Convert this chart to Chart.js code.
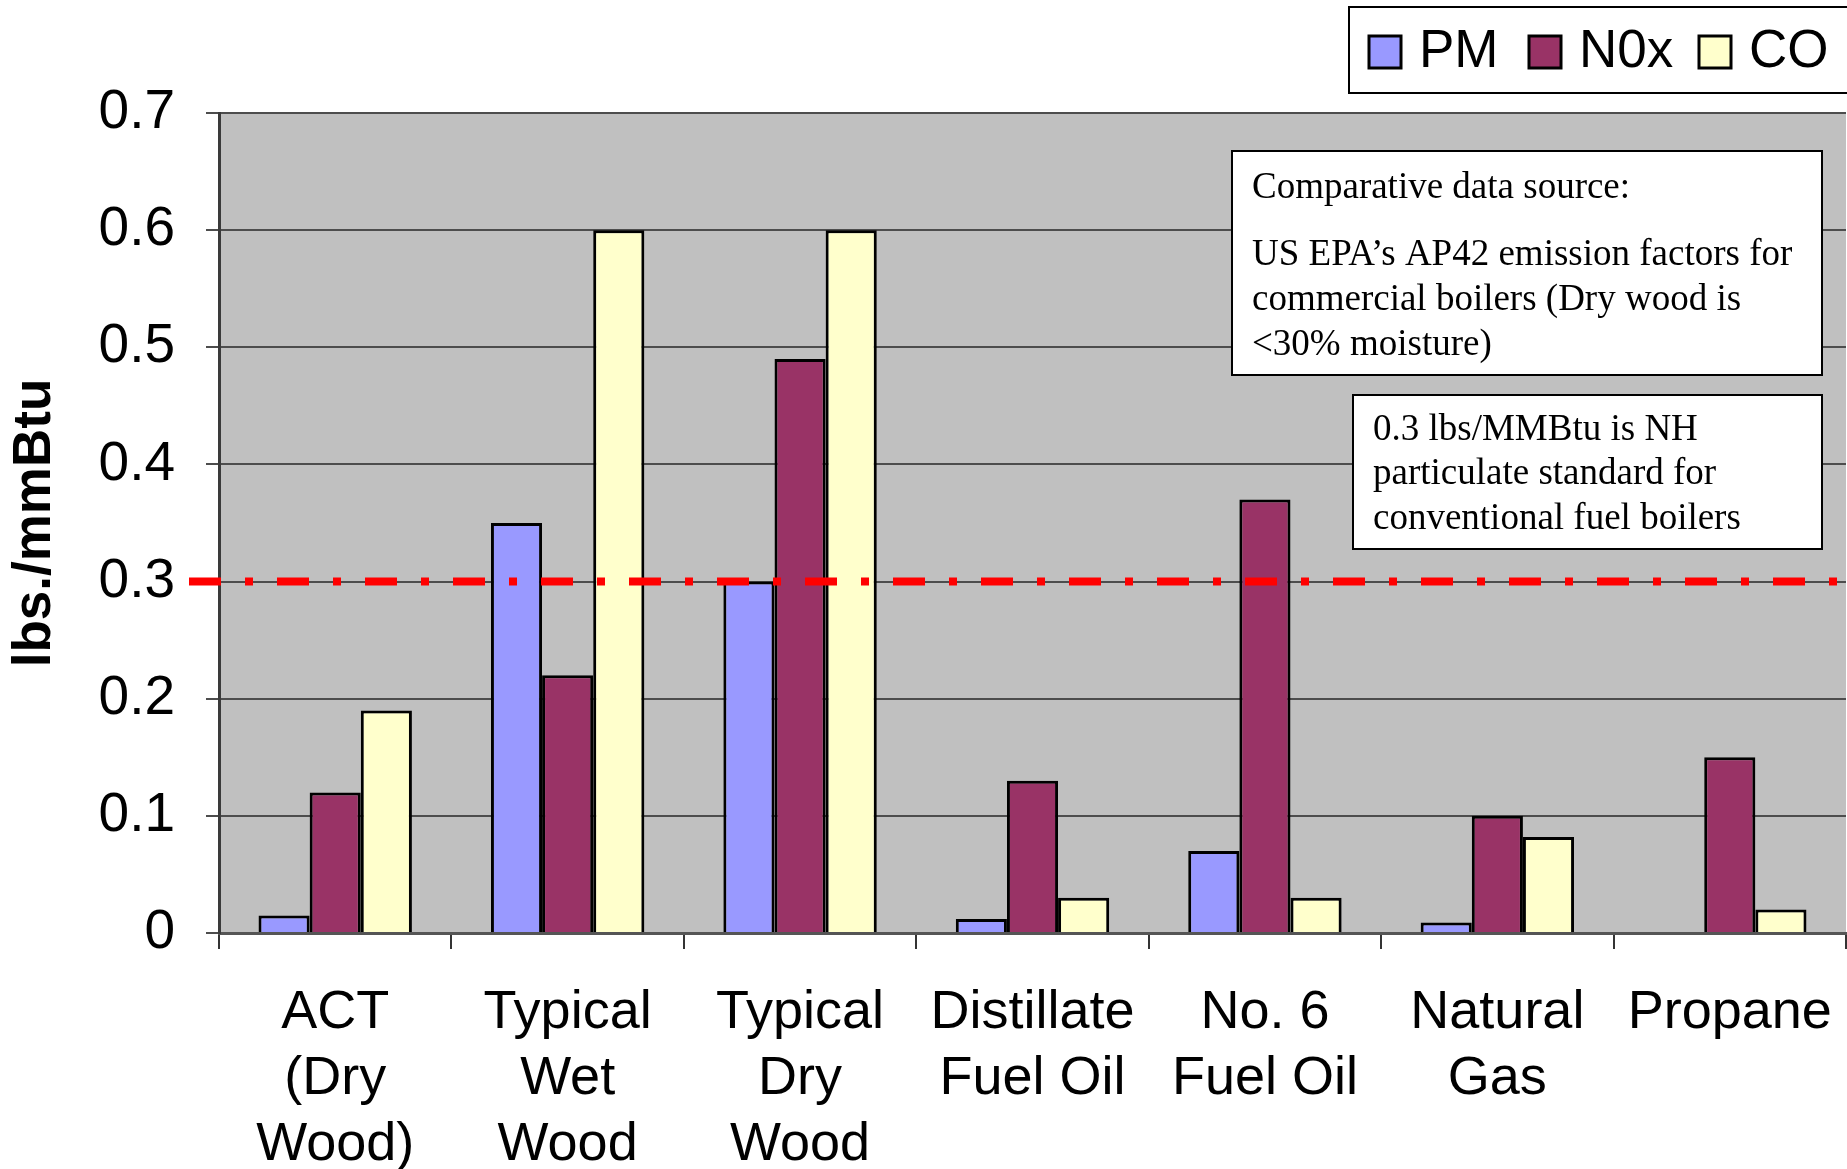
<!DOCTYPE html>
<html>
<head>
<meta charset="utf-8">
<title>Emissions by fuel</title>
<script src="https://cdn.jsdelivr.net/npm/chart.js@4"></script>
<style>
  html, body { margin: 0; padding: 0; background: #fff; }
  canvas { display: block; }
</style>
</head>
<body>
<canvas id="emissions" width="1847" height="1169"></canvas>
<script>
// fuels along the x axis
const fuels = [
  ['ACT', '(Dry', 'Wood)'],
  ['Typical', 'Wet', 'Wood'],
  ['Typical', 'Dry', 'Wood'],
  ['Distillate', 'Fuel Oil'],
  ['No. 6', 'Fuel Oil'],
  ['Natural', 'Gas'],
  'Propane'
];

// lbs./mmBtu
const pm  = [0.015, 0.35, 0.30, 0.012, 0.07, 0.009, null];
const nox = [0.12, 0.22, 0.49, 0.13, 0.37, 0.10, 0.15];
const co  = [0.19, 0.60, 0.60, 0.03, 0.03, 0.082, 0.02];

const yTicks = [0, 0.1, 0.2, 0.3, 0.4, 0.5, 0.6, 0.7];
const nhStandard = 0.3;

const sourceNote = [
  'Comparative data source:',
  'US EPA\u2019s AP42 emission factors for',
  'commercial boilers (Dry wood is',
  '<30% moisture)'
];
const standardNote = [
  '0.3 lbs/MMBtu is NH',
  'particulate standard for',
  'conventional fuel boilers'
];

const SANS = 'Liberation Sans, Arial, sans-serif';
const SERIF = 'Liberation Serif, Times New Roman, serif';

/* ----- extras drawn around the bars ----- */
const extras = {
  id: 'extras',
  beforeDraw(chart) {
    // grey plot background, under the grid
    const { ctx, chartArea: a } = chart;
    ctx.save();
    ctx.fillStyle = '#c0c0c0';
    ctx.fillRect(a.left, a.top, a.right - a.left, a.bottom - a.top);
    ctx.restore();
  },
  afterDatasetsDraw(chart) {
    // NH particulate standard, dash-dot across the plot
    const { ctx, chartArea: a } = chart;
    const y = chart.scales.y.getPixelForValue(nhStandard);
    ctx.save();
    ctx.strokeStyle = '#ff0000';
    ctx.lineWidth = 8;
    ctx.setLineDash([32, 24, 8, 24]);
    ctx.beginPath();
    ctx.moveTo(a.left - 30, y);
    ctx.lineTo(chart.width, y);
    ctx.stroke();
    ctx.restore();
  },
  afterDraw(chart) {
    const ctx = chart.ctx;
    ctx.save();

    // note boxes
    const box = (x, y, w, h) => {
      ctx.fillStyle = '#fff';
      ctx.fillRect(x, y, w, h);
      ctx.strokeStyle = '#000';
      ctx.lineWidth = 2;
      ctx.strokeRect(x, y, w, h);
    };
    ctx.font = '37px ' + SERIF;
    ctx.textBaseline = 'middle';
    ctx.textAlign = 'left';

    box(1232, 151, 590, 224);
    ctx.fillStyle = '#000';
    [188, 255, 300, 345].forEach((ty, i) => ctx.fillText(sourceNote[i], 1252, ty));

    box(1353, 395, 469, 154);
    ctx.fillStyle = '#000';
    [430, 474, 519].forEach((ty, i) => ctx.fillText(standardNote[i], 1373, ty));

    // legend
    ctx.fillStyle = '#fff';
    ctx.fillRect(1349, 7, 510, 86);
    ctx.strokeStyle = '#000';
    ctx.lineWidth = 2;
    ctx.strokeRect(1349, 7, 510, 86);

    const keyX = [1369, 1529, 1699];
    ctx.font = '53px ' + SANS;
    ctx.textBaseline = 'middle';
    chart.data.datasets.forEach((ds, i) => {
      ctx.fillStyle = ds.backgroundColor;
      ctx.fillRect(keyX[i], 36, 32, 32);
      ctx.lineWidth = 3;
      ctx.strokeStyle = '#000';
      ctx.strokeRect(keyX[i], 36, 32, 32);
      ctx.fillStyle = '#000';
      ctx.fillText(ds.label, keyX[i] + 50, 52);
    });

    ctx.restore();
  }
};

const bar = (label, data, color) => ({
  label,
  data,
  backgroundColor: color,
  borderColor: '#000',
  borderWidth: 3,
  categoryPercentage: 0.66,
  barPercentage: 1.0
});

new Chart(document.getElementById('emissions'), {
  type: 'bar',
  data: {
    labels: fuels,
    datasets: [
      bar('PM', pm, '#9999ff'),
      bar('N0x', nox, '#993366'),
      bar('CO', co, '#ffffcc')
    ]
  },
  options: {
    responsive: false,
    animation: false,
    layout: { padding: { top: 113, right: 1, left: 0, bottom: 0 } },
    plugins: {
      legend: { display: false },
      tooltip: { enabled: false }
    },
    scales: {
      x: {
        offset: true,
        grid: {
          offset: true,
          drawOnChartArea: false,
          drawTicks: true,
          tickLength: 16,
          color: '#333',
          lineWidth: 2
        },
        border: { display: true, color: '#555', width: 3 },
        ticks: {
          color: '#000',
          font: { family: SANS, size: 54, lineHeight: 1.22 },
          padding: 31,
          maxRotation: 0,
          autoSkip: false
        },
        afterFit(scale) {
          // plot runs to the right edge; "Propane" fits in its own slot
          scale.height = 236;
          scale.paddingLeft = 0;
          scale.paddingRight = 0;
        }
      },
      y: {
        min: 0,
        max: 0.7,
        afterBuildTicks(scale) { scale.ticks = yTicks.map(v => ({ value: v })); },
        grid: {
          color: '#4d4d4d',
          lineWidth: 2,
          tickLength: 13,
          drawTicks: true
        },
        border: { display: true, color: '#3a3a3a', width: 3 },
        ticks: {
          color: '#000',
          font: { family: SANS, size: 55 },
          padding: 31,
          callback: v => v === 0 ? '0' : v.toFixed(1)
        },
        title: {
          display: true,
          text: 'lbs./mmBtu',
          color: '#000',
          font: { family: SANS, size: 53, weight: 'bold' },
          padding: { top: 4, bottom: 0 }
        },
        afterFit(scale) { scale.width = 219; }
      }
    }
  },
  plugins: [extras]
});
</script>
</body>
</html>
